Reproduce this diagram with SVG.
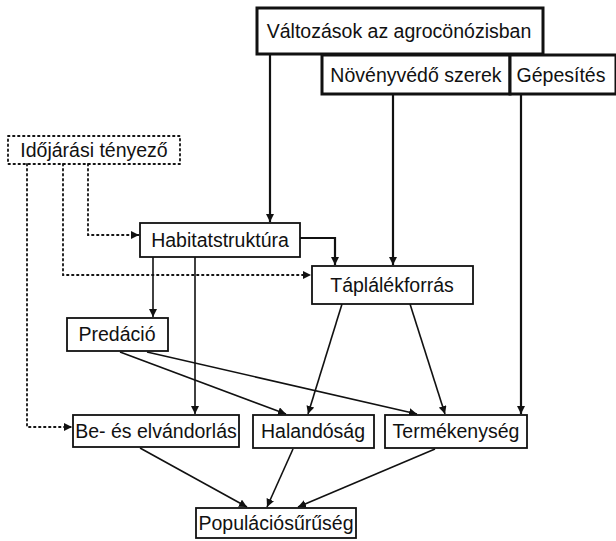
<svg xmlns="http://www.w3.org/2000/svg" width="616" height="541" viewBox="0 0 616 541">
<style>
  .box{fill:#fff;stroke:#111;stroke-width:1.8}
  .thick{fill:#fff;stroke:#111;stroke-width:3}
  .dot{fill:none;stroke:#111;stroke-width:1.8;stroke-dasharray:1.5 3.5;stroke-linecap:round}
  .ln{fill:none;stroke:#111;stroke-width:1.6}
  .lnt{fill:none;stroke:#111;stroke-width:2.2}
  text{font-family:"Liberation Sans",Arial,sans-serif;font-size:19.5px;fill:#111;text-anchor:middle;dominant-baseline:central}
</style>
<defs>
  <marker id="ah" viewBox="0 0 10 10" refX="10" refY="5" markerWidth="8" markerHeight="8" markerUnits="userSpaceOnUse" orient="auto">
    <path d="M0,0 L10,5 L0,10 z" fill="#111"/>
  </marker>
</defs>
<g id="connectors">
  <path class="lnt" d="M270,54 V222" marker-end="url(#ah)"/>
  <path class="lnt" d="M393,95 V265" marker-end="url(#ah)"/>
  <path class="lnt" d="M521,95 V414" marker-end="url(#ah)"/>
  <path class="dot" d="M88,164 V235 H139" marker-end="url(#ah)"/>
  <path class="dot" d="M63,164 V275 H311" marker-end="url(#ah)"/>
  <path class="dot" d="M27,164 V427 H72" marker-end="url(#ah)"/>
  <path class="lnt" d="M300,238 H335 V265" marker-end="url(#ah)"/>
  <path class="ln" d="M153,257 V317" marker-end="url(#ah)"/>
  <path class="ln" d="M195,257 V414" marker-end="url(#ah)"/>
  <path class="ln" d="M120,352 L286,414" marker-end="url(#ah)"/>
  <path class="ln" d="M147,352 L417,414" marker-end="url(#ah)"/>
  <path class="ln" d="M342,304 L308,414" marker-end="url(#ah)"/>
  <path class="ln" d="M410,304 L445,414" marker-end="url(#ah)"/>
  <path class="ln" d="M140,448 L247,507" marker-end="url(#ah)"/>
  <path class="ln" d="M293,449 L267,507" marker-end="url(#ah)"/>
  <path class="ln" d="M435,449 L298,507" marker-end="url(#ah)"/>
</g>
<g id="valtozasok">
  <rect class="thick" x="257" y="8" width="286" height="46"/>
  <text x="399" y="31">Változások az agrocönózisban</text>
</g>
<g id="novenyvedo">
  <rect class="thick" x="322" y="55" width="188" height="39"/>
  <text x="416" y="75">Növényvédő szerek</text>
</g>
<g id="gepesites">
  <rect class="thick" x="510" y="55" width="106" height="39"/>
  <text x="561" y="75">Gépesítés</text>
</g>
<g id="idojarasi">
  <rect class="dot" x="8" y="136" width="172" height="28"/>
  <text x="94" y="150">Időjárási tényező</text>
</g>
<g id="habitat">
  <rect class="box" x="140" y="223" width="160" height="34"/>
  <text x="220" y="240">Habitatstruktúra</text>
</g>
<g id="taplalek">
  <rect class="box" x="312" y="266" width="161" height="38"/>
  <text x="392" y="285">Táplálékforrás</text>
</g>
<g id="predacio">
  <rect class="box" x="67" y="318" width="101" height="33"/>
  <text x="117" y="334">Predáció</text>
</g>
<g id="be_elvandorlas">
  <rect class="box" x="73" y="415" width="166" height="32"/>
  <text x="156" y="431">Be- és elvándorlás</text>
</g>
<g id="halandosag">
  <rect class="box" x="253" y="415" width="121" height="33"/>
  <text x="313" y="431">Halandóság</text>
</g>
<g id="termekenyseg">
  <rect class="box" x="385" y="415" width="142" height="33"/>
  <text x="456" y="431">Termékenység</text>
</g>
<g id="populacio">
  <rect class="box" x="196" y="508" width="160" height="30"/>
  <text x="276" y="523">Populációsűrűség</text>
</g>
</svg>
